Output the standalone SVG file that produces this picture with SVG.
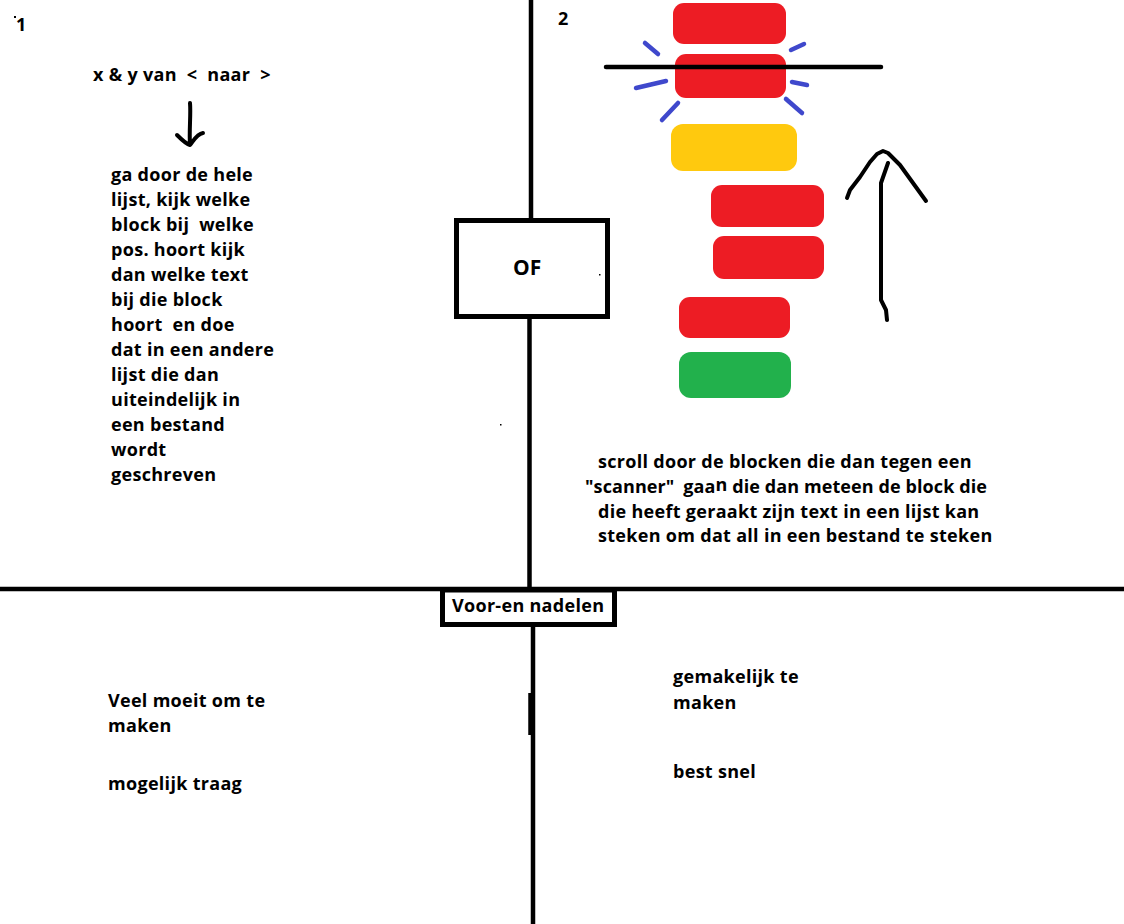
<svg xmlns="http://www.w3.org/2000/svg" width="1124" height="924" viewBox="0 0 1124 924">
<style>
text{font-family:"Open Sans","Noto Sans",sans-serif;font-weight:bold;font-size:18px;letter-spacing:0.3px;fill:#000;white-space:pre}
.ln{stroke:#000;stroke-width:4.5;fill:none;stroke-linecap:butt}
.hand{stroke:#000;stroke-width:4;fill:none;stroke-linecap:round;stroke-linejoin:round}
.glow{stroke:#3F48CC;stroke-width:4.5;stroke-linecap:round}
.red{fill:#ED1C24}
.box{fill:#fff;stroke:#000;stroke-width:5}
</style>
<rect width="1124" height="924" fill="#fff"/>
<g id="connectors">
<line class="ln" x1="531" y1="0" x2="531" y2="220"/>
<line class="ln" x1="529.5" y1="318" x2="529.5" y2="590"/>
<line class="ln" x1="0" y1="589" x2="1124" y2="589"/>
<line class="ln" x1="533" y1="626" x2="533" y2="924"/>
<line class="ln" x1="530.5" y1="693" x2="530.5" y2="735"/>
</g>
<g id="panel1">
<rect x="14" y="16" width="2" height="2" fill="#000"/>
<text x="16" y="31">1</text>
<text x="93" y="81">x &amp; y van  &lt;  naar  &gt;</text>
<path class="hand" d="M190,103 C191,115 189,130 190,145 M177,135 C182,140 186,144 190,145 C194,140 197,134 203,133"/>
<text x="111" y="181">ga door de hele</text>
<text x="111" y="206">lijst, kijk welke</text>
<text x="111" y="231">block bij  welke</text>
<text x="111" y="256">pos. hoort kijk</text>
<text x="111" y="281">dan welke text</text>
<text x="111" y="306">bij die block</text>
<text x="111" y="331">hoort  en doe</text>
<text x="111" y="356">dat in een andere</text>
<text x="111" y="381">lijst die dan</text>
<text x="111" y="406">uiteindelijk in</text>
<text x="111" y="431">een bestand</text>
<text x="111" y="456">wordt</text>
<text x="111" y="481">geschreven</text>
<rect x="500" y="424" width="1.5" height="1.5" fill="#000"/>
</g>
<g id="of">
<rect class="box" x="456.5" y="220.5" width="151" height="96"/>
<text x="513" y="275" style="font-size:21px;letter-spacing:0">OF</text>
<rect x="599" y="274" width="1.5" height="1.5" fill="#000"/>
</g>
<g id="panel2">
<text x="558" y="25">2</text>
<rect class="red" x="673" y="3" width="113" height="41" rx="11"/>
<rect class="red" x="675" y="54" width="111" height="44" rx="11"/>
<rect x="671" y="124" width="126" height="47" rx="12" fill="#FFC90E"/>
<rect class="red" x="711" y="185" width="113" height="42" rx="11"/>
<rect class="red" x="713" y="236" width="111" height="43" rx="11"/>
<rect class="red" x="679" y="297" width="111" height="41" rx="11"/>
<rect x="679" y="352" width="112" height="46" rx="12" fill="#22B14C"/>
<line x1="606" y1="67" x2="881" y2="67" stroke="#000" stroke-width="4.5" stroke-linecap="round"/>
<line class="glow" x1="645" y1="43" x2="658" y2="54"/>
<line class="glow" x1="791" y1="50" x2="804" y2="44"/>
<line class="glow" x1="636" y1="88" x2="666" y2="81"/>
<line class="glow" x1="792" y1="82" x2="807" y2="85"/>
<line class="glow" x1="662" y1="120" x2="678" y2="103"/>
<line class="glow" x1="786" y1="99" x2="802" y2="113"/>
<path class="hand" d="M887,320 L886,310 L881,300 L881,183 L888,163"/>
<path class="hand" d="M847,198 L850,190 L860,177 L870,162 L877,154 L883,151 L888,153 L900,165 L913,183 L926,201"/>
<text x="598" y="468">scroll door de blocken die dan tegen een</text>
<text x="585" y="493" style="letter-spacing:0.1px">"scanner" <tspan dx="4">gaa</tspan><tspan dy="-2">n</tspan><tspan dy="2"> die dan meteen de block die</tspan></text>
<text x="598" y="518">die heeft geraakt zijn text in een lijst kan</text>
<text x="598" y="542">steken om dat all in een bestand te steken</text>
</g>
<g id="voor-en-nadelen">
<rect class="box" x="442.5" y="590" width="172" height="34.5"/>
<text x="452" y="612">Voor-en nadelen</text>
</g>
<g id="nadelen">
<text x="108" y="707">Veel moeit om te</text>
<text x="108" y="732">maken</text>
<text x="108" y="790">mogelijk traag</text>
</g>
<g id="voordelen">
<text x="673" y="683">gemakelijk te</text>
<text x="673" y="709">maken</text>
<text x="673" y="778">best snel</text>
</g>
</svg>
